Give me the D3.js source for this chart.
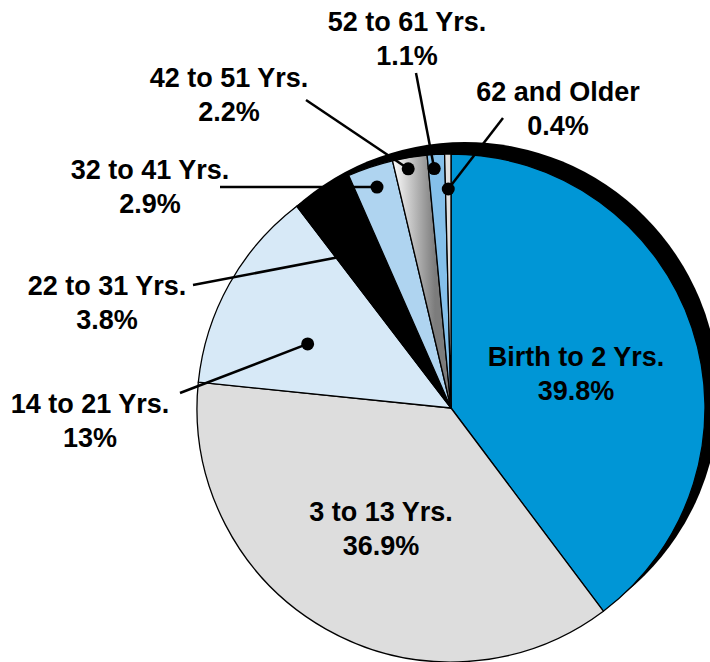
<!DOCTYPE html>
<html>
<head>
<meta charset="utf-8">
<script src="https://cdn.jsdelivr.net/npm/d3@7"></script>
<style>
  body { margin: 0; background: #fff; }
  svg { display: block; }
  text { font-family: "Liberation Sans", Arial, sans-serif; font-weight: bold; fill: #000; }
</style>
</head>
<body>
<div id="chart"></div>
<script>
// age groups, clockwise from 12 o'clock
const categories = ["Birth to 2 Yrs.", "3 to 13 Yrs.", "14 to 21 Yrs.", "22 to 31 Yrs.",
  "32 to 41 Yrs.", "42 to 51 Yrs.", "52 to 61 Yrs.", "62 and Older"]
const shares = [39.8, 36.9, 13, 3.8, 2.9, 2.2, 1.1, 0.4]
const shareLabels = ["39.8%", "36.9%", "13%", "3.8%", "2.9%", "2.2%", "1.1%", "0.4%"]

const colors = ["#0096d6", "#dddddd", "#d7e9f7", "#000000", "#afd4f0", "url(#grad4251)", "#85c0ea", "#e0e0e0"]

// label placement (text centre) and leader lines
const labelPos = [[576, 357], [381, 512], [90, 404], [107, 286], [150, 170], [229, 78], [407, 22], [558, 92]]
const dotRadius = [null, null, 157, 186, 233, 243, 240, 219]
const dotAngleFrac = [null, null, 0.39, 0.15, 0.5, 0.4, 0.35, 0.5]
const lineStart = [null, null, [180, 393], [193, 285], [220, 187], [306, 100], [416, 73], [503, 118]]

const width = 710, height = 662
const cx = 451, cy = 408, radius = 254
const shadowDx = 14, shadowDy = -12
const fontSize = 27, lineGap = 34

const svg = d3.select('#chart').append('svg')
  .attr('width', width)
  .attr('height', height)

const defs = svg.append('defs')
const grad = defs.append('linearGradient')
  .attr('id', 'grad4251')
  .attr('gradientUnits', 'userSpaceOnUse')
  .attr('x1', -56).attr('y1', 0)
  .attr('x2', -16).attr('y2', 0)
grad.append('stop').attr('offset', '0%').attr('stop-color', '#f6f6f6')
grad.append('stop').attr('offset', '100%').attr('stop-color', '#7c7c7c')

const pie = d3.pie().sort(null).value(d => d)
const slices = pie(shares)

const arc = d3.arc().innerRadius(0).outerRadius(radius)

// black depth behind the pie
svg.append('circle')
  .attr('cx', cx + shadowDx)
  .attr('cy', cy + shadowDy)
  .attr('r', radius)
  .style('fill', '#000')

const g = svg.append('g').attr('transform', `translate(${cx},${cy})`)

g.selectAll('path.slice')
  .data(slices)
  .enter()
  .append('path')
  .attr('class', 'slice')
  .attr('d', arc)
  .style('fill', (d, i) => colors[i])
  .style('stroke', '#000')
  .style('stroke-width', 1.3)
  .style('stroke-linejoin', 'round')

// leader lines + dots
const dotPoint = (d, i) => {
  const a = d.startAngle + (d.endAngle - d.startAngle) * dotAngleFrac[i]
  const r = dotRadius[i]
  return [cx + r * Math.sin(a), cy - r * Math.cos(a)]
}

const leaders = slices.map((d, i) => ({d, i})).filter(o => lineStart[o.i])

svg.selectAll('line.leader')
  .data(leaders)
  .enter()
  .append('line')
  .attr('class', 'leader')
  .attr('x1', o => lineStart[o.i][0])
  .attr('y1', o => lineStart[o.i][1])
  .attr('x2', o => dotPoint(o.d, o.i)[0])
  .attr('y2', o => dotPoint(o.d, o.i)[1])
  .style('stroke', '#000')
  .style('stroke-width', 2.5)

svg.selectAll('circle.dot')
  .data(leaders)
  .enter()
  .append('circle')
  .attr('class', 'dot')
  .attr('cx', o => dotPoint(o.d, o.i)[0])
  .attr('cy', o => dotPoint(o.d, o.i)[1])
  .attr('r', 6.5)
  .style('fill', '#000')

// labels
const labels = svg.selectAll('g.label')
  .data(categories)
  .enter()
  .append('g')
  .attr('class', 'label')
  .attr('transform', (d, i) => `translate(${labelPos[i][0]},${labelPos[i][1]})`)

labels.append('text')
  .attr('text-anchor', 'middle')
  .attr('dy', '0.35em')
  .style('font-size', fontSize + 'px')
  .text(d => d)

labels.append('text')
  .attr('text-anchor', 'middle')
  .attr('y', lineGap)
  .attr('dy', '0.35em')
  .style('font-size', fontSize + 'px')
  .text((d, i) => shareLabels[i])
</script>
</body>
</html>
